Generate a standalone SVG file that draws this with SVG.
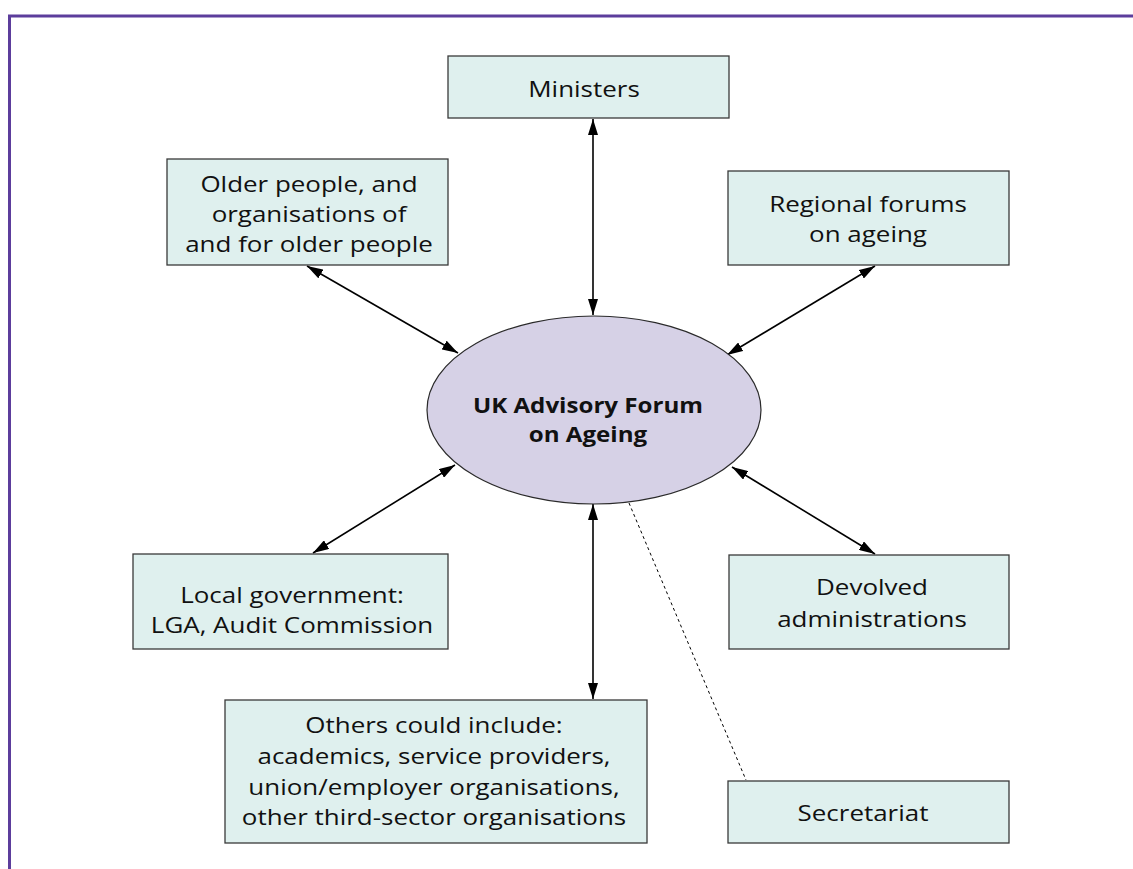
<svg xmlns="http://www.w3.org/2000/svg" width="1133" height="869" viewBox="0 0 1133 869">
<style>
.box{fill:#dff0ee;stroke:#3a3a3a;stroke-width:1.3}
.ell{fill:#d6d1e6;stroke:#2a2a2a;stroke-width:1.2}
text{font-family:"Open Sans","Noto Sans","Liberation Sans",sans-serif;font-size:22px;fill:#111;text-anchor:middle}
.b text{font-weight:bold;font-size:21px}
.con{stroke:#000;stroke-width:1.6;fill:none;marker-start:url(#ah);marker-end:url(#ah)}
.dash{stroke:#000;stroke-width:1;fill:none;stroke-dasharray:3,3}
.frame{stroke:#5c3d9c;stroke-width:3;fill:none}
</style>
<defs>
<marker id="ah" viewBox="0 0 16 10" refX="16" refY="5" markerWidth="16" markerHeight="10" markerUnits="userSpaceOnUse" orient="auto-start-reverse">
<path d="M0,0 L16,5 L0,10 Z" fill="#000"/>
</marker>
</defs>
<rect width="1133" height="869" fill="#fff"/>
<path class="frame" d="M9.5,869 V16 H1133"/>
<g id="connectors">
<line class="con" x1="593" y1="119" x2="593" y2="315"/>
<line class="con" x1="307" y1="266" x2="458" y2="353"/>
<line class="con" x1="875" y1="266" x2="727" y2="355"/>
<line class="con" x1="455" y1="465" x2="313" y2="553"/>
<line class="con" x1="732" y1="467" x2="875" y2="554"/>
<line class="con" x1="593" y1="504" x2="593" y2="699"/>
<line class="dash" x1="629" y1="503" x2="746" y2="780"/>
</g>
<g id="forum">
<ellipse class="ell" cx="594" cy="410" rx="167" ry="94"/>
<g class="b" transform="translate(588,0) scale(1.15,1)">
<text x="0" y="413">UK Advisory Forum</text>
<text x="0" y="442">on Ageing</text>
</g>
</g>
<g id="ministers">
<rect class="box" x="448" y="56" width="281" height="62"/>
<g transform="translate(584,0) scale(1.18,1)">
<text x="0" y="97">Ministers</text>
</g>
</g>
<g id="older-people">
<rect class="box" x="167" y="159" width="281" height="106"/>
<g transform="translate(309,0) scale(1.18,1)">
<text x="0" y="192">Older people, and</text>
<text x="0" y="222">organisations of</text>
<text x="0" y="252">and for older people</text>
</g>
</g>
<g id="regional">
<rect class="box" x="728" y="171" width="281" height="94"/>
<g transform="translate(868,0) scale(1.18,1)">
<text x="0" y="212">Regional forums</text>
<text x="0" y="242">on ageing</text>
</g>
</g>
<g id="local-government">
<rect class="box" x="133" y="554" width="315" height="95"/>
<g transform="translate(292,0) scale(1.18,1)">
<text x="0" y="603">Local government:</text>
<text x="0" y="633">LGA, Audit Commission</text>
</g>
</g>
<g id="devolved">
<rect class="box" x="729" y="555" width="280" height="94"/>
<g transform="translate(872,0) scale(1.18,1)">
<text x="0" y="595">Devolved</text>
<text x="0" y="627">administrations</text>
</g>
</g>
<g id="others">
<rect class="box" x="225" y="700" width="422" height="143"/>
<g transform="translate(434,0) scale(1.18,1)">
<text x="0" y="733">Others could include:</text>
<text x="0" y="764">academics, service providers,</text>
<text x="0" y="795">union/employer organisations,</text>
<text x="0" y="825">other third-sector organisations</text>
</g>
</g>
<g id="secretariat">
<rect class="box" x="728" y="781" width="281" height="62"/>
<g transform="translate(863,0) scale(1.18,1)">
<text x="0" y="821">Secretariat</text>
</g>
</g>
</svg>
